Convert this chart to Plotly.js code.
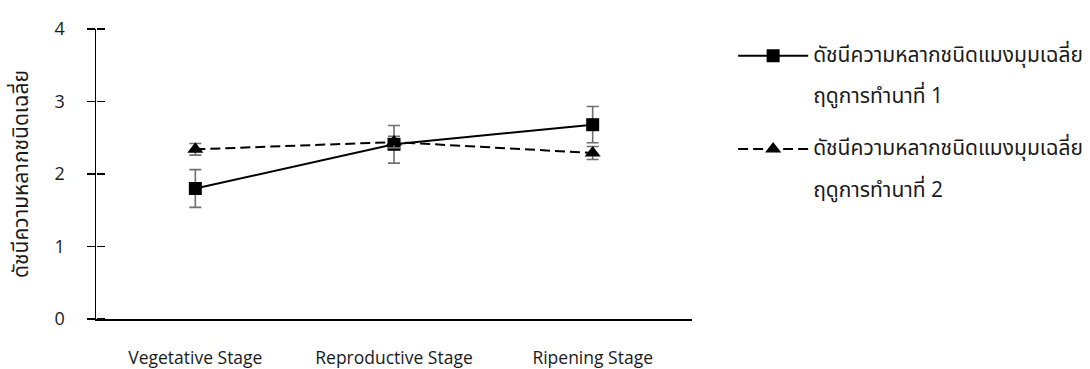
<!DOCTYPE html>
<html>
<head>
<meta charset="utf-8">
<script src="https://cdn.plot.ly/plotly-3.0.1.min.js"></script>
<style>html,body{margin:0;padding:0;background:#fff;}#chart{width:1090px;height:369px;}</style>
</head>
<body>
<div id="chart"></div>
<script>
var stages = ["Vegetative Stage", "Reproductive Stage", "Ripening Stage"];
var season1 = [1.80, 2.41, 2.68];
var season1Err = [0.26, 0.26, 0.25];
var season2 = [2.34, 2.44, 2.29];
var season2Err = [0.08, 0.08, 0.09];
var seriesNames = [
  "<span style=\"font-size:21px\">ดัชนีความหลากชนิดแมงมุมเฉลี่ย</span><br><br><span style=\"font-size:21px\">ฤดูการทำนาที่ 1</span>",
  "<span style=\"font-size:21px\">ดัชนีความหลากชนิดแมงมุมเฉลี่ย</span><br><br><span style=\"font-size:21px\">ฤดูการทำนาที่ 2</span>"
];
var yTitle = "ดัชนีความหลากชนิดเฉลี่ย";
var yTicks = [0, 1, 2, 3, 4];

var font = "Open Sans, Noto Sans, Noto Sans Thai, DejaVu Sans, sans-serif";

var traces = [
  {
    x: stages, y: season1, name: seriesNames[0], type: "scatter", mode: "lines+markers",
    legendgroup: "a",
    line: {color: "#000", width: 2},
    marker: {symbol: "square", size: 13, color: "#000"},
    error_y: {type: "data", array: season1Err, visible: true, color: "#6f6f6f", thickness: 1.6, width: 6}
  },
  {
    x: stages, y: season2, name: seriesNames[1], type: "scatter", mode: "lines+markers",
    legendgroup: "b",
    line: {color: "#000", width: 2, dash: "10px,5px"},
    marker: {symbol: "triangle-up", size: 14, color: "#000"},
    error_y: {type: "data", array: season2Err, visible: true, color: "#6f6f6f", thickness: 1.6, width: 6}
  },
  {
    x: stages, y: season1, type: "scatter", mode: "markers", yaxis: "y2",
    marker: {opacity: 0}, showlegend: false, hoverinfo: "skip"
  }
];

var layout = {
  width: 1090, height: 369,
  margin: {l: 96, r: 398, t: 29, b: 50},
  paper_bgcolor: "#fff", plot_bgcolor: "#fff",
  font: {family: font, size: 17.5, color: "#1a1a1a"},
  showlegend: true,
  legend: {
    xref: "container", yref: "container",
    x: 0.6726, y: 0.895, xanchor: "left", yanchor: "top",
    valign: "top", traceorder: "grouped", tracegroupgap: 28,
    itemwidth: 70,
    font: {family: font, size: 16, color: "#1a1a1a"}
  },
  xaxis: {
    type: "category", range: [-0.5, 2.5],
    showline: true, linecolor: "#000", linewidth: 1.5,
    showgrid: false, zeroline: false, ticks: "",
    ticklabelstandoff: 22,
    tickfont: {family: font, size: 17.5, color: "#1a1a1a"}
  },
  yaxis: {
    range: [0, 4], tickvals: yTicks, ticktext: yTicks.map(String),
    showline: true, linecolor: "#000", linewidth: 1.5,
    showgrid: false, zeroline: false,
    ticks: "outside", ticklen: 8, tickwidth: 1.5, tickcolor: "#000",
    ticklabelstandoff: 18,
    tickfont: {family: font, size: 18, color: "#1a1a1a"},
    title: {text: yTitle, standoff: 20, font: {family: font, size: 21, color: "#1a1a1a"}}
  },
  yaxis2: {
    overlaying: "y", range: [0, 4], tickvals: yTicks, showticklabels: false,
    anchor: "free", position: 0, side: "right",
    showline: false, showgrid: false, zeroline: false,
    ticks: "outside", ticklen: 8, tickwidth: 1.5, tickcolor: "#000"
  }
};

Plotly.newPlot("chart", traces, layout, {displayModeBar: false, staticPlot: true});
</script>
</body>
</html>
